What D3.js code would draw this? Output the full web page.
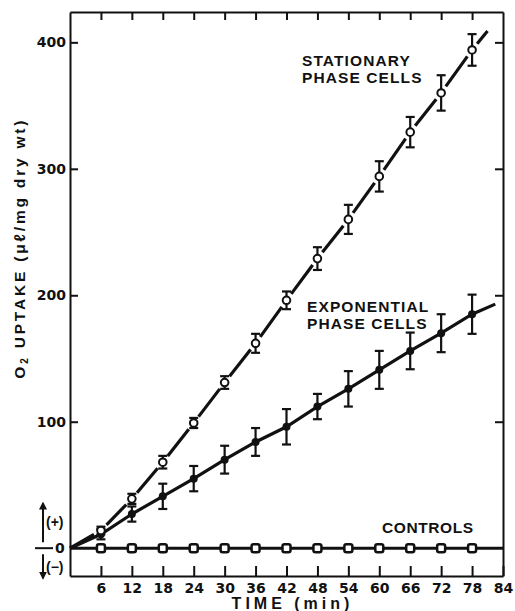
<!DOCTYPE html>
<html>
<head>
<meta charset="utf-8">
<script src="https://cdn.jsdelivr.net/npm/d3@7"></script>
<style>
  body { margin: 0; background: #fff; }
  svg { display: block; font-family: "Liberation Sans", Arial, sans-serif; }
  .lbl { font-size: 15.5px; font-weight: bold; fill: #111; }
  .tick text { font-size: 14px; font-weight: bold; fill: #111; font-family: "DejaVu Sans", sans-serif; }
  .tick line, .domain { stroke: #111; stroke-width: 2px; }
</style>
</head>
<body>
<div id="chart"></div>
<script>
// time points (min)
const times = [6, 12, 18, 24, 30, 36, 42, 48, 54, 60, 66, 72, 78];
// O2 uptake, ul / mg dry wt
const stationary = [14, 39, 68, 99, 131, 162, 196, 229, 260, 294, 329, 360, 394];
const stationaryErr = [3, 4, 5, 4, 5, 7.5, 7, 9, 11.5, 12, 12, 14, 12.5];
const exponential = [11, 27, 41, 55, 70, 84, 96, 112, 126, 141, 156, 170, 185];
const exponentialErr = [4, 6, 10, 10, 11, 11, 14, 10, 14, 15, 14.5, 15, 15.5];
const controls = [0, 0, 0, 0, 0, 0, 0, 0, 0, 0, 0, 0, 0];
// where the drawn lines stop past the last point
const stationaryEnd = [81, 409];
const exponentialEnd = [82.5, 193];
const controlsEnd = [84, 0];
const xTicks = [6, 12, 18, 24, 30, 36, 42, 48, 54, 60, 66, 72, 78, 84];
const yTicks = [100, 200, 300, 400];

const width = 515, height = 611;

const svg = d3.select("#chart").append("svg")
    .attr("width", width)
    .attr("height", height);

const x = d3.scaleLinear().domain([0, 84]).range([70, 503]);
const y = d3.scaleLinear().domain([-22, 424]).range([576, 12]);

const ink = "#111";

// arrowhead for the (+)/(-) markers
svg.append("defs").append("marker")
    .attr("id", "arrowhead")
    .attr("viewBox", "0 -5 10 10")
    .attr("refX", 8)
    .attr("refY", 0)
    .attr("orient", "auto")
    .attr("markerWidth", 4)
    .attr("markerHeight", 4)
    .append("path")
    .attr("d", "M0,-5L10,0L0,5Z")
    .attr("fill", ink);

// axes, ticks pointing inside the frame
svg.append("g")
    .attr("transform", `translate(0,${y(-22)})`)
    .call(d3.axisBottom(x).tickValues(xTicks).tickSize(-10).tickPadding(7).tickSizeOuter(0));

svg.append("g")
    .attr("transform", `translate(0,${y(424)})`)
    .call(d3.axisTop(x).tickValues(xTicks.slice(0, -1)).tickSize(-8).tickFormat("").tickSizeOuter(0));

svg.append("g")
    .attr("transform", `translate(${x(0)},0)`)
    .call(d3.axisLeft(y).tickValues(yTicks).tickSize(-8).tickPadding(4).tickSizeOuter(0));

svg.append("g")
    .attr("transform", `translate(${x(84)},0)`)
    .call(d3.axisRight(y).tickValues(yTicks).tickSize(-8).tickFormat("").tickSizeOuter(0));

svg.selectAll(".domain").attr("stroke-width", 2.2);

// zero label with the (+) and (-) arrows
const y0 = y(0);
svg.append("line")
    .attr("x1", 35).attr("x2", 53)
    .attr("y1", y0).attr("y2", y0)
    .attr("stroke", ink).attr("stroke-width", 2);
svg.append("text").attr("class", "lbl")
    .attr("x", 55).attr("y", y0 + 5)
    .style("font-family", "DejaVu Sans, sans-serif")
    .style("font-size", "14px")
    .text("0");
svg.append("line")
    .attr("x1", 43).attr("x2", 43)
    .attr("y1", y0 - 6).attr("y2", y0 - 45)
    .attr("stroke", ink).attr("stroke-width", 2)
    .attr("marker-end", "url(#arrowhead)");
svg.append("line")
    .attr("x1", 43).attr("x2", 43)
    .attr("y1", y0 + 6).attr("y2", y0 + 30)
    .attr("stroke", ink).attr("stroke-width", 2)
    .attr("marker-end", "url(#arrowhead)");
svg.append("text").attr("class", "lbl")
    .attr("x", 46).attr("y", y0 - 21)
    .style("font-size", "14px")
    .text("(+)");
svg.append("text").attr("class", "lbl")
    .attr("x", 46).attr("y", y0 + 24)
    .style("font-size", "14px")
    .text("(\u2212)");

// axis titles
svg.append("text").attr("class", "lbl")
    .attr("x", x(42) + 6).attr("y", 609)
    .attr("text-anchor", "middle")
    .style("font-size", "16px")
    .style("letter-spacing", "4px")
    .text("TIME (min)");

const yTitle = svg.append("text").attr("class", "lbl")
    .attr("transform", `translate(25,${y(0) - 300}) rotate(-90)`)
    .attr("text-anchor", "middle")
    .style("letter-spacing", "2.8px");
yTitle.append("tspan").text("O");
yTitle.append("tspan").attr("baseline-shift", "-30%").style("font-size", "10px").text("2");
yTitle.append("tspan").text(" UPTAKE (\u03bc\u2113/mg dry wt)");

// series points as objects
const pts = (vals, errs) => times.map((t, i) => ({ t: t, v: vals[i], e: errs ? errs[i] : 0 }));
const statPts = pts(stationary, stationaryErr);
const expPts = pts(exponential, exponentialErr);
const ctrlPts = pts(controls);

// controls: flat line with open square markers
svg.append("path")
    .datum([{ t: 0, v: 0 }].concat(ctrlPts, [{ t: controlsEnd[0], v: controlsEnd[1] }]))
    .attr("fill", "none")
    .attr("stroke", ink)
    .attr("stroke-width", 3)
    .attr("d", d3.line().x(d => x(d.t)).y(d => y(d.v)));

svg.selectAll(".ctrl")
    .data(ctrlPts)
    .enter().append("rect")
    .attr("class", "ctrl")
    .attr("x", d => x(d.t) - 4)
    .attr("y", d => y(d.v) - 4)
    .attr("width", 8).attr("height", 8)
    .attr("rx", 2)
    .attr("fill", "#fff")
    .attr("stroke", ink)
    .attr("stroke-width", 2.5);

// exponential phase: continuous line
svg.append("path")
    .datum([{ t: 0, v: 0 }].concat(expPts, [{ t: exponentialEnd[0], v: exponentialEnd[1] }]))
    .attr("fill", "none")
    .attr("stroke", ink)
    .attr("stroke-width", 3.2)
    .attr("d", d3.line().x(d => x(d.t)).y(d => y(d.v)));

// stationary phase: line broken around each point
const statLine = [{ t: 0, v: 0 }].concat(statPts, [{ t: stationaryEnd[0], v: stationaryEnd[1] }]);
const segs = d3.pairs(statLine).map(([a, b], i) => {
    const ax = x(a.t), ay = y(a.v), bx = x(b.t), by = y(b.v);
    const len = Math.hypot(bx - ax, by - ay);
    const ux = (bx - ax) / len, uy = (by - ay) / len;
    const gapA = i === 0 ? 0 : 8;
    const gapB = i === statLine.length - 2 ? 0 : 8;
    return [ax + ux * gapA, ay + uy * gapA, bx - ux * gapB, by - uy * gapB];
});
svg.selectAll(".stat-seg")
    .data(segs)
    .enter().append("line")
    .attr("class", "stat-seg")
    .attr("x1", d => d[0]).attr("y1", d => d[1])
    .attr("x2", d => d[2]).attr("y2", d => d[3])
    .attr("stroke", ink)
    .attr("stroke-width", 3.2);

// error bars
function errorBars(data, cls) {
    const g = svg.selectAll("." + cls)
        .data(data)
        .enter().append("g")
        .attr("class", cls);
    g.append("line")
        .attr("x1", d => x(d.t)).attr("x2", d => x(d.t))
        .attr("y1", d => y(d.v + d.e)).attr("y2", d => y(d.v - d.e))
        .attr("stroke", ink).attr("stroke-width", 2.2);
    g.append("line")
        .attr("x1", d => x(d.t) - 4.5).attr("x2", d => x(d.t) + 4.5)
        .attr("y1", d => y(d.v + d.e)).attr("y2", d => y(d.v + d.e))
        .attr("stroke", ink).attr("stroke-width", 2.2);
    g.append("line")
        .attr("x1", d => x(d.t) - 4.5).attr("x2", d => x(d.t) + 4.5)
        .attr("y1", d => y(d.v - d.e)).attr("y2", d => y(d.v - d.e))
        .attr("stroke", ink).attr("stroke-width", 2.2);
}
errorBars(expPts, "exp-err");
errorBars(statPts, "stat-err");

svg.selectAll(".exp-pt")
    .data(expPts)
    .enter().append("circle")
    .attr("class", "exp-pt")
    .attr("cx", d => x(d.t)).attr("cy", d => y(d.v))
    .attr("r", 4)
    .attr("fill", ink);

svg.selectAll(".stat-pt")
    .data(statPts)
    .enter().append("circle")
    .attr("class", "stat-pt")
    .attr("cx", d => x(d.t)).attr("cy", d => y(d.v))
    .attr("r", 3.8)
    .attr("fill", "#fff")
    .attr("stroke", ink)
    .attr("stroke-width", 2);

// series labels
const notes = [
    { lines: ["STATIONARY", "PHASE CELLS"], x: 302, y: 66 },
    { lines: ["EXPONENTIAL", "PHASE CELLS"], x: 307, y: 312 },
    { lines: ["CONTROLS"], x: 382, y: 533 }
];
notes.forEach(n => {
    const t = svg.append("text").attr("class", "lbl")
        .attr("x", n.x).attr("y", n.y)
        .style("letter-spacing", n.lines.length > 1 ? "1.1px" : "0.6px");
    n.lines.forEach((s, i) => {
        t.append("tspan").attr("x", n.x).attr("dy", i === 0 ? 0 : 16.5).text(s);
    });
});
</script>
</body>
</html>
